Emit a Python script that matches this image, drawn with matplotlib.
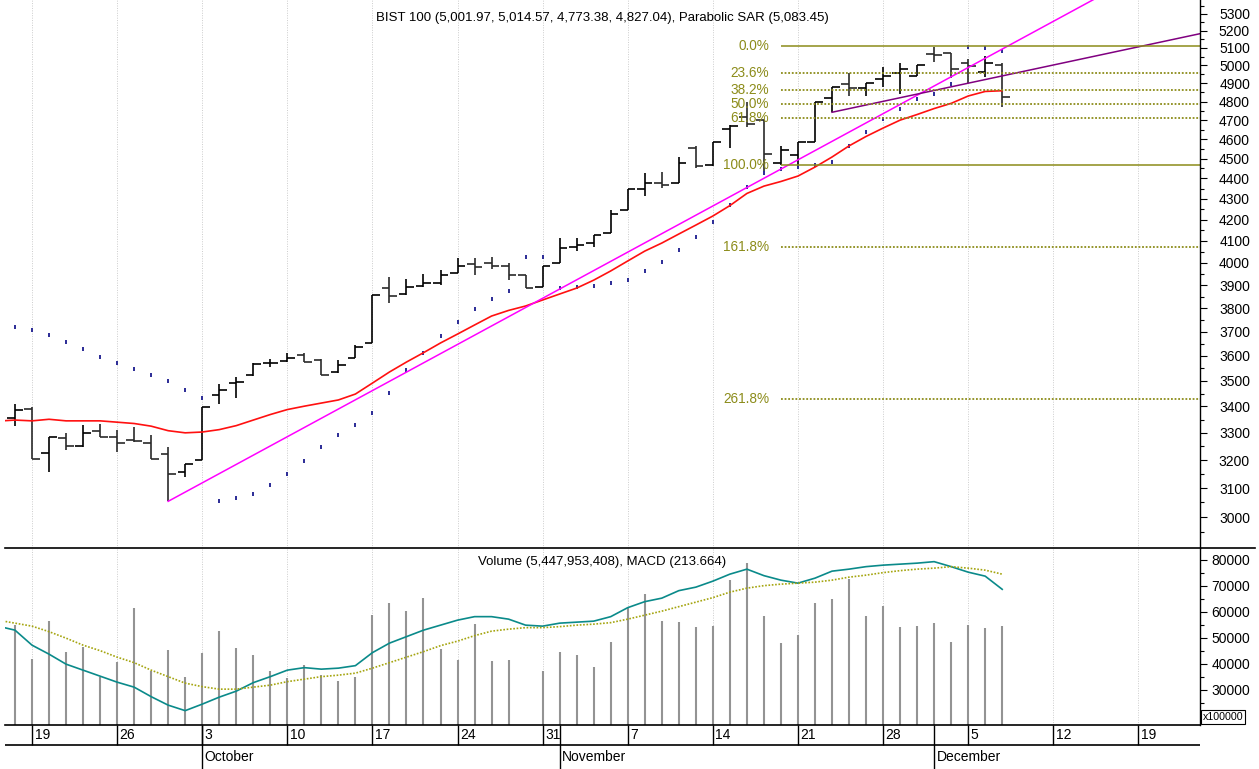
import numpy as np
import pandas as pd
import matplotlib
matplotlib.use("Agg")
import matplotlib.pyplot as plt
from matplotlib.ticker import FixedLocator, NullFormatter, FuncFormatter
from matplotlib.lines import Line2D

plt.rcParams['font.family'] = ['Liberation Sans', 'DejaVu Sans']

# trading days
all_days = pd.bdate_range("2022-09-15", "2022-12-23")
bar_days = pd.bdate_range("2022-09-16", "2022-12-07")
ind_days = pd.bdate_range("2022-09-15", "2022-12-07")

opens = [3356, 3389, 3226, 3279, 3252, 3307, 3285, 3273, 3263, 3222, 3156, 3200,
         3444, 3492, 3525, 3570, 3580, 3603, 3583, 3536, 3590, 3651, 3886, 3861,
         3896, 3911, 3955, 3994, 3997, 3986, 3945, 3893, 3997, 4073, 4089, 4138,
         4246, 4346, 4376, 4378, 4553, 4465, 4651, 4715, 4701, 4479, 4518, 4584,
         4821, 4896, 4873, 4922, 4959, 4941, 5066, 5073, 5011, 4961, 5002]
highs = [3409, 3399, 3285, 3298, 3329, 3335, 3310, 3323, 3292, 3249, 3184, 3399,
         3487, 3516, 3570, 3586, 3610, 3610, 3586, 3583, 3644, 3856, 3937, 3926,
         3948, 3967, 4020, 4020, 4027, 3997, 3945, 3986, 4112, 4112, 4128, 4246,
         4348, 4426, 4434, 4510, 4565, 4587, 4674, 4800, 4701, 4565, 4587, 4800,
         4878, 4955, 4903, 4993, 5012, 5004, 5108, 5073, 5034, 5053, 5015]
lows = [3325, 3203, 3156, 3236, 3249, 3285, 3230, 3266, 3203, 3054, 3140, 3200,
        3409, 3431, 3519, 3556, 3575, 3577, 3523, 3530, 3590, 3651, 3820, 3856,
        3890, 3900, 3955, 3945, 3974, 3922, 3889, 3893, 3997, 4053, 4071, 4138,
        4246, 4313, 4351, 4378, 4451, 4463, 4553, 4665, 4434, 4468, 4459, 4584,
        4742, 4832, 4832, 4878, 4840, 4941, 5022, 4928, 4900, 4937, 4773]
closes = [3386, 3203, 3285, 3251, 3298, 3285, 3263, 3268, 3203, 3151, 3184, 3397,
          3464, 3495, 3566, 3572, 3590, 3577, 3525, 3563, 3637, 3856, 3852, 3890,
          3908, 3945, 3986, 3983, 3986, 3945, 3889, 3986, 4066, 4080, 4128, 4227,
          4348, 4376, 4370, 4479, 4463, 4584, 4669, 4679, 4522, 4544, 4584, 4797,
          4878, 4873, 4900, 4940, 4980, 5004, 5062, 4980, 4995, 5015, 4827]
sar = [3718, 3707, 3687, 3657, 3627, 3596, 3572, 3547, 3523, 3499, 3464, 3431,
       3056, 3064, 3080, 3111, 3149, 3196, 3247, 3293, 3329, 3374, 3451, 3543,
       3613, 3682, 3739, 3796, 3838, 3875, 4027, 4024, 3889, 3893, 3898, 3908,
       3923, 3962, 4004, 4058, 4118, 4189, 4270, 4359, 4425, 4445, 4455, 4468,
       4484, 4565, 4638, 4705, 4758, 4812, 4840, 4895, 5108, 5097, 5083]
# volume in units of 100000
volume = [55000, 41900, 56500, 44700, 46700, 34900, 40700, 61700, 37400, 45400,
          34900, 44300, 52800, 46300, 43500, 37300, 34500, 39600, 35800, 33500,
          35100, 58800, 63600, 60400, 65500, 45800, 41500, 55300, 41200, 41500,
          16000, 37300, 44700, 43500, 38700, 48600, 62000, 66900, 56500, 56300,
          54400, 54700, 72300, 78700, 58500, 48000, 51200, 63600, 65000, 72600,
          58500, 62300, 54100, 54600, 55700, 48600, 55000, 53700, 54480]

# indicators start one day earlier (Sep 15)
ma = [3344, 3348, 3345, 3351, 3345, 3345, 3345, 3340, 3335, 3325, 3308, 3300,
      3303, 3312, 3327, 3348, 3369, 3388, 3401, 3413, 3425, 3448, 3491, 3535,
      3575, 3613, 3653, 3690, 3728, 3766, 3790, 3809, 3835, 3861, 3887, 3922,
      3963, 4008, 4053, 4090, 4132, 4174, 4217, 4267, 4326, 4362, 4385, 4412,
      4457, 4508, 4565, 4614, 4658, 4700, 4730, 4762, 4790, 4830, 4855, 4859]
macd = [140, 132, 102, 84, 64, 52, 40, 28, 18, -1, -18, -29,
        -16, -2, 10, 27, 39, 52, 57, 54, 56, 61, 87, 106,
        119, 132, 142, 152, 159, 159, 154, 142, 140, 146, 148, 150,
        159, 177, 189, 196, 211, 218, 230, 244, 254, 241, 232, 226,
        236, 250, 254, 259, 262, 264, 266, 269, 259, 248, 240, 213.664]
signal = [152, 146, 140, 129, 116, 102, 91, 78, 67, 52, 39, 26,
          19, 14, 14, 18, 22, 29, 34, 39, 42, 46, 56, 67,
          78, 89, 101, 110, 121, 130, 134, 137, 137, 139, 142, 144,
          147, 154, 162, 170, 179, 188, 197, 208, 216, 221, 224, 226,
          228, 232, 238, 242, 247, 251, 254, 256, 259, 256, 252, 244]

fib_ratios = [0.0, 23.6, 38.2, 50.0, 61.8, 100.0, 161.8, 261.8]
fib_high = 5110
fib_low = 4468

title = "BIST 100 (5,001.97, 5,014.57, 4,773.38, 4,827.04), Parabolic SAR (5,083.45)"
sub_title = "Volume (5,447,953,408), MACD (213.664)"

pos = {d: k for k, d in enumerate(all_days)}
xb = np.array([pos[d] for d in bar_days])
xi = np.array([pos[d] for d in ind_days])
opens, highs, lows, closes = map(np.array, (opens, highs, lows, closes))
xlim = (0.414, 70.62)

W, H = 1259, 769


def rect(x0, y0, x1, y1):
    return [x0 / W, 1 - y1 / H, (x1 - x0) / W, (y1 - y0) / H]


def trend(d1, v1, d2, v2, x_end):
    x1, x2 = pos[pd.Timestamp(d1)], pos[pd.Timestamp(d2)]
    k = (np.log(v2) - np.log(v1)) / (x2 - x1)
    xs = np.array([x1, x_end])
    return xs, v1 * np.exp(k * (xs - x1))


fig = plt.figure(figsize=(W / 100, H / 100), dpi=100)
ax = fig.add_axes(rect(5, 0, 1200, 548))
axv = fig.add_axes(rect(5, 548, 1200, 725), sharex=ax)
axd = fig.add_axes(rect(5, 725, 1200, 769), sharex=ax)

mondays = [pos[d] for d in all_days if d.weekday() == 0 and d >= pd.Timestamp("2022-09-19")]
month_starts = [pos[d] for d in all_days
                if d.month != (d - pd.tseries.offsets.BDay(1)).month]

# ---- price panel
ax.set_yscale('log')
ax.set_xlim(*xlim)
ax.set_ylim(2897, 5384)
grid_kw = dict(color='#cccccc', lw=0.7, ls=(0, (1, 1.5)))
for a in (ax, axv):
    for m in mondays:
        a.axvline(m, zorder=0, **grid_kw)

bar_col = np.where(closes >= opens, 'black', '#2a2a2a')
ax.vlines(xb, lows, highs, colors=bar_col, lw=1.2)
ax.hlines(opens, xb - 0.45, xb, colors=bar_col, lw=1.2)
ax.hlines(closes, xb, xb + 0.45, colors=bar_col, lw=1.2)
ax.plot(xb, sar, ls='none', marker='|', ms=3.2, mew=1.4, color='#2b2b96')
ax.plot(xi, ma, color='#ff1010', lw=1.2)

mx, my = trend("2022-09-29", 3054, "2022-11-18", 4447, xlim[1] + 1)
ax.plot(mx, my, color='#ff00ff', lw=1.1)
px, py = trend("2022-11-23", 4742, "2022-12-07", 4941, xlim[1] + 1)
ax.plot(px, py, color='#800080', lw=1.1)

fib_col = '#8c8c1a'
fib_x0 = pos[pd.Timestamp("2022-11-18")]
for r in fib_ratios:
    lvl = fib_high - r / 100 * (fib_high - fib_low)
    if r in (0.0, 100.0):
        ax.hlines(lvl, fib_x0, xlim[1], colors=fib_col, lw=1.1)
    else:
        ax.hlines(lvl, fib_x0, xlim[1], colors=fib_col, lw=1.3, linestyles=(0, (1, 1)))
    ax.text(fib_x0 - 0.7, lvl, f"{r:.1f}%", color=fib_col, fontsize=9.8,
            ha='right', va='center')

ax.text(0.5, 0.967, title, transform=ax.transAxes, ha='center', va='center', fontsize=9.5)

ax.yaxis.set_major_locator(FixedLocator(np.arange(3000, 5301, 100)))
ax.yaxis.set_minor_locator(FixedLocator(np.arange(2950, 5351, 100)))
ax.yaxis.set_major_formatter(FuncFormatter(lambda v, _: f"{v:.0f}"))
ax.yaxis.set_minor_formatter(NullFormatter())

# ---- volume / macd panel
axv.set_ylim(16538, 84615)
axv.vlines(xb, 16538, volume, colors='#939393', lw=1.5)
axv.yaxis.set_major_locator(FixedLocator(np.arange(20000, 80001, 10000)))
axv.yaxis.set_minor_locator(FixedLocator(np.arange(25000, 75001, 10000)))
# the 20000 label sits behind the multiplier box
axv.yaxis.set_major_formatter(FuncFormatter(lambda v, _: "" if v < 25000 else f"{v:.0f}"))
axv.yaxis.set_minor_formatter(NullFormatter())
axv.text(0.5, 0.921, sub_title, transform=axv.transAxes, ha='center', va='center', fontsize=9.5)

axm = axv.twinx()
axm.set_ylim(-57.7, 296.3)
axm.plot(xi, macd, color='#0a8a8a', lw=1.2)
axm.plot(xi, signal, color='#a5a510', lw=1.2, ls=(0, (1, 1)))
axm.set_yticks([])
for s in axm.spines.values():
    s.set_visible(False)

for a in (ax, axv):
    for side in ('left', 'top', 'bottom'):
        a.spines[side].set_visible(False)
    a.spines['right'].set_linewidth(1.0)
    a.yaxis.tick_right()
    a.tick_params(axis='y', which='major', direction='out', length=5, width=0.8,
                  labelsize=10, pad=31)
    a.tick_params(axis='y', which='minor', direction='out', length=3, width=0.8)
    a.tick_params(axis='x', which='both', length=0, labelbottom=False)
    plt.setp(a.get_yticklabels(), ha='right')
axv.spines['bottom'].set_visible(True)
axv.spines['bottom'].set_linewidth(1.2)

# separator line between panels
fig.add_artist(Line2D([5 / W, 1255 / W], [1 - 548 / H] * 2, color='black', lw=1.2))

# ---- date bar
axd.set_ylim(0, 1)
axd.axis('off')
y_mid = (769 - 745) / 44
axd.axhline(y_mid, color='black', lw=1.2)
for m in mondays:
    axd.vlines(m, y_mid, 1, colors='black', lw=1.0)
    axd.text(m + 0.15, 0.78, str(all_days[m].day), fontsize=10, ha='left', va='center')
for m in month_starts:
    axd.vlines(m, 0, 1, colors='black', lw=1.0)
    axd.text(m + 0.15, 0.28, all_days[m].strftime('%B'), fontsize=10, ha='left', va='center')

fig.text(1203 / W, 1 - 717 / H, 'x100000', fontsize=7.7, ha='left', va='center',
         bbox=dict(boxstyle='square,pad=0.15', fc='white', ec='black', lw=0.8))

fig.savefig('out.png', dpi=100, facecolor='white')
